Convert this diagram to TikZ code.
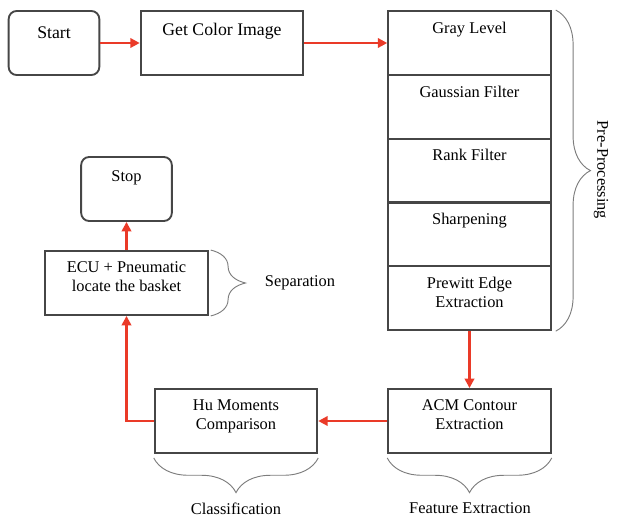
\documentclass[tikz,border=0pt]{standalone}
\usepackage{fontspec}
\setmainfont{Liberation Serif}
\usetikzlibrary{arrows.meta,decorations.pathreplacing}
\definecolor{flowred}{RGB}{234,58,40}
\definecolor{boxline}{RGB}{70,70,70}
\definecolor{bracegray}{RGB}{125,125,125}

\begin{document}
\begin{tikzpicture}[x=0.75pt,y=-0.75pt,>={Triangle[length=7pt,width=7pt]},
    every node/.style={font=\fontsize{12.3}{14.3}\selectfont},
    box/.style={draw=boxline,line width=1.4pt,minimum width=122pt,minimum height=48pt,inner sep=0pt},
    term/.style={box,rounded corners=6pt,minimum width=68pt},
    toptext/.style={anchor=north,inner sep=0pt,align=center,yshift=-8.7pt},
    bigtext/.style={toptext,font=\fontsize{13.3}{15}\selectfont,yshift=-0.6pt},
    flow/.style={->,draw=flowred,line width=1.8pt},
    brace/.style={decorate,decoration={brace,amplitude=26pt},draw=bracegray,line width=0.7pt}]
    \useasboundingbox (0,0) rectangle (618,525);
    \node[term,label={[bigtext,yshift=-3pt]north:Start}] (start) at (54,43) {};
    \node[box,label={[bigtext]north:Get Color Image}] (get) at (222,43) {};
    \node[box,label={[toptext]north:Gray Level}] (gray) at (469.5,43) {};
    \node[box,label={[toptext]north:Gaussian Filter}] (gauss) at (469.5,106.8) {};
    \node[box,label={[toptext]north:Rank Filter}] (rank) at (469.5,170.6) {};
    \node[box,label={[toptext]north:Sharpening}] (sharp) at (469.5,234.4) {};
    \node[box,label={[toptext]north:{Prewitt Edge\\Extraction}}] (prewitt) at (469.5,298.2) {};
    \node[box,label={[toptext]north:{ACM Contour\\Extraction}}] (acm) at (469.5,421) {};
    \node[box,label={[toptext]north:{Hu Moments\\Comparison}}] (hu) at (236,421) {};
    \node[box,label={[toptext]north:{ECU + Pneumatic\\locate the basket}}] (ecu) at (126.5,283) {};
    \node[term,label={[toptext,yshift=-2pt]north:Stop}] (stop) at (126.5,189) {};

    \draw[flow] (start) -- (get);
    \draw[flow] (get) -- (gray);
    \draw[flow] (prewitt) -- (acm);
    \draw[flow] (acm) -- (hu);
    \draw[flow] (hu.west) -| (ecu.south);
    \draw[flow] (ecu) -- (stop);

    \draw[brace] ([xshift=3pt]gray.north east) -- ([xshift=3pt]prewitt.south east);
    \draw[brace] ([xshift=1.5pt]ecu.north east) -- ([xshift=1.5pt]ecu.south east);
    \draw[brace] ([yshift=-3pt]hu.south east) -- ([yshift=-3pt]hu.south west);
    \draw[brace] ([yshift=-3pt]acm.south east) -- ([yshift=-3pt]acm.south west);

    \node[rotate=-90] (pre) at (601,170) {Pre-Processing};
    \node (sep) at (300,283) {Separation};
    \node (cls) at (236,509) {Classification};
    \node (feat) at (470,508) {Feature Extraction};
\end{tikzpicture}
\end{document}
